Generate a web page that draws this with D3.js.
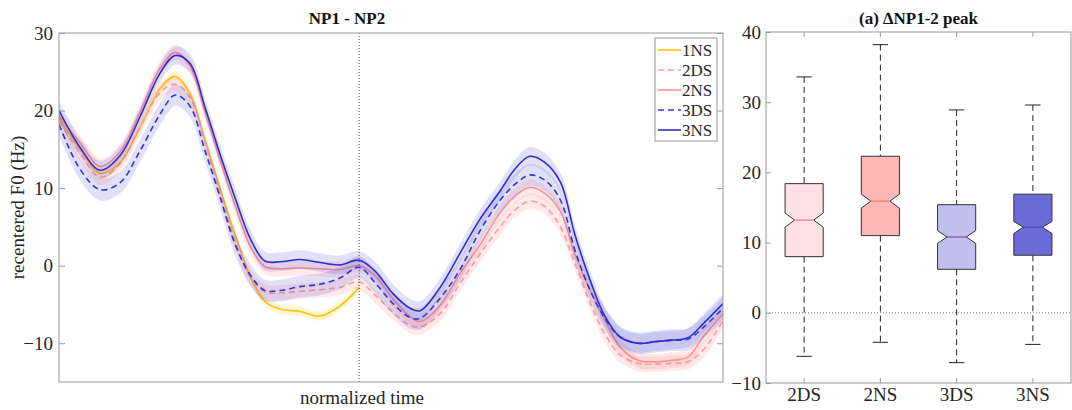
<!DOCTYPE html>
<html>
<head>
<meta charset="utf-8">
<script src="https://cdn.jsdelivr.net/npm/d3@7"></script>
<style>
body { margin: 0; background: #fff; }
</style>
</head>
<body>
<svg id="chart" width="1072" height="410"></svg>
<script>
// normalized time of each sample (0 = start of NP1, 1 = end of NP2)
let time = [0, .032, .062, .092, .122, .152, .175, .197, .220, .242, .265, .288, .310, .333, .363, .393, .423, .452,
    .476, .503, .529, .544, .574, .604, .634, .664, .687, .709, .732, .755, .777, .800, .822, .845, .872, .898, .923, .947, .970, 1];

// mean recentered F0 (Hz) per condition
let ns1 = [19.0, 15.0, 11.9, 13.3, 17.8, 22.8, 24.4, 22.2, 16.2, 10.1, 4.1, -1.4, -4.6, -5.6, -5.9, -6.5, -5.2, -2.8];
let ds2 = [18.6, 14.5, 11.4, 13.2, 17.8, 22.3, 23.4, 21.7, 16.0, 9.5, 3.3, -1.5, -3.4, -3.5, -3.3, -3.1, -2.8, -2.1,
    -3.8, -6.0, -7.7, -7.9, -6.2, -2.3, 1.5, 5.0, 7.2, 8.3, 7.6, 5.0, 0.3, -4.8, -8.8, -11.5, -12.6, -12.7, -12.6, -12.4, -10.9, -7.1];
let ns2 = [19.3, 15.8, 12.8, 14.7, 19.8, 25.4, 27.5, 25.8, 19.8, 13.8, 7.8, 2.5, -0.1, -0.4, -0.3, -0.4, -0.5, 0.0,
    -1.3, -4.3, -6.6, -7.2, -5.1, -1.0, 2.7, 6.8, 9.0, 10.1, 9.3, 7.0, 1.5, -3.2, -7.0, -10.5, -12.2, -12.4, -12.2, -11.8, -9.2, -6.2];
let ds3 = [18.2, 12.4, 9.8, 10.7, 14.8, 19.5, 22.0, 20.6, 14.8, 9.0, 2.8, -1.2, -3.2, -3.2, -2.7, -2.4, -1.6, -0.2,
    -2.2, -4.9, -6.7, -6.8, -4.2, -0.5, 4.5, 8.4, 10.5, 11.7, 11.0, 8.5, 2.0, -3.2, -6.8, -9.2, -10.0, -9.8, -9.6, -9.5, -8.0, -5.5];
let ns3 = [20.0, 15.2, 12.3, 14.2, 19.2, 24.8, 27.1, 26.1, 20.4, 14.5, 8.8, 3.5, 0.6, 0.5, 0.8, 0.4, 0.1, 0.7,
    -0.7, -3.6, -5.5, -5.8, -2.8, 1.6, 6.0, 9.6, 12.5, 14.1, 13.3, 10.8, 4.0, -1.9, -6.5, -9.2, -10.0, -9.8, -9.6, -9.3, -7.5, -4.9];

let seriesNames = ["1NS", "2DS", "2NS", "3DS", "3NS"];
let seriesValues = [ns1, ds2, ns2, ds3, ns3];
let ciHalf = [0.6, 1.0, 1.0, 1.4, 1.2];   // half width of shaded band
let boundary = 0.452;                      // NP1 / NP2 boundary

// peak difference boxplots
let boxCats = ["2DS", "2NS", "3DS", "3NS"];
let whiskLo = [-6.2, -4.2, -7.1, -4.5];
let q1 = [8.0, 11.0, 6.2, 8.2];
let notchLo = [12.2, 14.9, 9.9, 11.3];
let med = [13.2, 15.9, 10.8, 12.2];
let notchHi = [14.2, 16.9, 11.7, 13.0];
let q3 = [18.4, 22.3, 15.4, 16.9];
let whiskHi = [33.6, 38.2, 28.9, 29.6];

let leftTicks = [-10, 0, 10, 20, 30];
let rightTicks = [-10, 0, 10, 20, 30, 40];

// styles
let font = "'Times New Roman', 'Liberation Serif', Times, serif";
let lineColor = { "1NS": "#ffc20e", "2DS": "#ff9a9a", "2NS": "#ff9090", "3DS": "#3434d4", "3NS": "#2e2ed0" };
let bandColor = { "1NS": "rgba(255,215,40,0.22)", "2DS": "rgba(255,140,140,0.19)", "2NS": "rgba(255,140,140,0.19)",
    "3DS": "rgba(90,90,220,0.19)", "3NS": "rgba(90,90,220,0.19)" };
let dashed = { "1NS": false, "2DS": true, "2NS": false, "3DS": true, "3NS": false };
let boxFill = ["#fde0e3", "#ffb6b6", "#c0c0ee", "#6b6bd8"];
let medColor = ["#ff8a8a", "#ff8080", "#a064aa", "#4a4ac4"];
let axisGrey = "#999";
let labelSize = 19;

let svg = d3.select("#chart").attr("font-family", font);

function styleAxis(a) {
    a.attr("font-family", font).attr("font-size", labelSize);
    a.select(".domain").remove();
    a.selectAll(".tick line").attr("stroke", axisGrey);
    a.selectAll("text").attr("fill", "#262626");
}

/**
 * Left panel: F0 contours
 */
let L = { x0: 59, x1: 723, y0: 33, y1: 382 };
let x = d3.scaleLinear().domain([0, 1]).range([L.x0, L.x1]);
let y = d3.scaleLinear().domain([-15, 30]).range([L.y1, L.y0]);

svg.append("clipPath").attr("id", "clipL")
    .append("rect").attr("x", L.x0).attr("y", L.y0).attr("width", L.x1 - L.x0).attr("height", L.y1 - L.y0);

let plot = svg.append("g").attr("clip-path", "url(#clipL)");
let curve = d3.curveCatmullRom.alpha(0.5);

seriesNames.forEach(function (name, i) {
    let pts = seriesValues[i].map(function (v, j) { return { t: time[j], v: v }; });
    let band = d3.area().curve(curve)
        .x(function (d) { return x(d.t); })
        .y0(function (d) { return y(d.v - ciHalf[i]); })
        .y1(function (d) { return y(d.v + ciHalf[i]); });
    plot.append("path").attr("d", band(pts)).attr("fill", bandColor[name]);
    let line = d3.line().curve(curve)
        .x(function (d) { return x(d.t); })
        .y(function (d) { return y(d.v); });
    plot.append("path").attr("d", line(pts))
        .attr("fill", "none")
        .attr("stroke", lineColor[name])
        .attr("stroke-width", 1.6)
        .attr("stroke-dasharray", dashed[name] ? "6,4" : null);
});

// boundary line
svg.append("line")
    .attr("x1", x(boundary)).attr("x2", x(boundary))
    .attr("y1", L.y0).attr("y2", L.y1)
    .attr("stroke", "#444").attr("stroke-dasharray", "1,2");

// axes box
svg.append("rect").attr("x", L.x0).attr("y", L.y0).attr("width", L.x1 - L.x0).attr("height", L.y1 - L.y0)
    .attr("fill", "none").attr("stroke", axisGrey);

styleAxis(svg.append("g").attr("transform", "translate(" + L.x0 + ",0)")
    .call(d3.axisLeft(y).tickValues(leftTicks).tickSize(-6).tickPadding(6)));
styleAxis(svg.append("g").attr("transform", "translate(" + L.x1 + ",0)")
    .call(d3.axisRight(y).tickValues(leftTicks).tickSize(-6).tickFormat("")));

svg.append("text").attr("x", 347).attr("y", 24).attr("text-anchor", "middle")
    .attr("font-size", 17).attr("font-weight", "bold").attr("fill", "#111").text("NP1 - NP2");
svg.append("text").attr("x", 362).attr("y", 404).attr("text-anchor", "middle")
    .attr("font-size", labelSize).attr("fill", "#262626").text("normalized time");
svg.append("text").attr("transform", "translate(24," + (L.y0 + L.y1) / 2 + ") rotate(-90)")
    .attr("text-anchor", "middle").attr("font-size", labelSize).attr("fill", "#262626").text("recentered F0 (Hz)");

// legend
let lg = svg.append("g").attr("transform", "translate(655,38)");
lg.append("rect").attr("width", 62).attr("height", 103).attr("fill", "#fff").attr("stroke", axisGrey);
seriesNames.forEach(function (name, i) {
    let yy = 12 + i * 20;
    lg.append("line").attr("x1", 3).attr("x2", 26).attr("y1", yy).attr("y2", yy)
        .attr("stroke", lineColor[name]).attr("stroke-width", 1.6)
        .attr("stroke-dasharray", dashed[name] ? "6,4" : null);
    lg.append("text").attr("x", 27).attr("y", yy).attr("dy", "0.35em")
        .attr("font-size", 17).attr("fill", "#262626").text(name);
});

/**
 * Right panel: notched boxplots
 */
let R = { x0: 766, x1: 1071, y0: 32, y1: 383 };
let bx = d3.scaleBand().domain(boxCats).range([R.x0, R.x1]).paddingInner(0.5).paddingOuter(0.25);
let by = d3.scaleLinear().domain([-10, 40]).range([R.y1, R.y0]);

svg.append("line").attr("x1", R.x0).attr("x2", R.x1).attr("y1", by(0)).attr("y2", by(0))
    .attr("stroke", "#777").attr("stroke-dasharray", "1,2");

boxCats.forEach(function (c, i) {
    let w = bx.bandwidth();
    let l = bx(c), r = l + w, cx = l + w / 2;
    let inset = w / 4;
    let g = svg.append("g");
    // whiskers
    [[whiskHi[i], q3[i]], [q1[i], whiskLo[i]]].forEach(function (p) {
        g.append("line").attr("x1", cx).attr("x2", cx).attr("y1", by(p[0])).attr("y2", by(p[1]))
            .attr("stroke", "#222").attr("stroke-dasharray", "6,4");
    });
    [whiskHi[i], whiskLo[i]].forEach(function (v) {
        g.append("line").attr("x1", cx - w * 0.2).attr("x2", cx + w * 0.2).attr("y1", by(v)).attr("y2", by(v))
            .attr("stroke", "#222");
    });
    let poly = [
        [l, by(q1[i])], [l, by(notchLo[i])], [l + inset, by(med[i])], [l, by(notchHi[i])], [l, by(q3[i])],
        [r, by(q3[i])], [r, by(notchHi[i])], [r - inset, by(med[i])], [r, by(notchLo[i])], [r, by(q1[i])]
    ];
    g.append("path").attr("d", "M" + poly.join("L") + "Z")
        .attr("fill", boxFill[i]).attr("stroke", "#333").attr("stroke-width", 1);
    g.append("line").attr("x1", l + inset).attr("x2", r - inset).attr("y1", by(med[i])).attr("y2", by(med[i]))
        .attr("stroke", medColor[i]).attr("stroke-width", 1.5);
});

svg.append("rect").attr("x", R.x0).attr("y", R.y0).attr("width", R.x1 - R.x0).attr("height", R.y1 - R.y0)
    .attr("fill", "none").attr("stroke", axisGrey);

styleAxis(svg.append("g").attr("transform", "translate(" + R.x0 + ",0)")
    .call(d3.axisLeft(by).tickValues(rightTicks).tickSize(-5).tickPadding(5)));
styleAxis(svg.append("g").attr("transform", "translate(0," + R.y1 + ")")
    .call(d3.axisBottom(bx).tickSize(-5).tickPadding(5)));
styleAxis(svg.append("g").attr("transform", "translate(0," + R.y0 + ")")
    .call(d3.axisTop(bx).tickSize(-5).tickFormat("")));

svg.append("text").attr("x", (R.x0 + R.x1) / 2).attr("y", 24).attr("text-anchor", "middle")
    .attr("font-size", 17).attr("font-weight", "bold").attr("fill", "#111").text("(a) \u2206NP1-2 peak");
</script>
</body>
</html>
